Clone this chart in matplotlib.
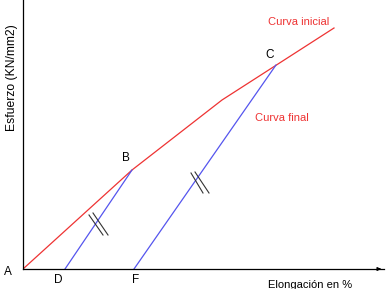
import matplotlib.pyplot as plt

plt.rcParams['font.family'] = ['Liberation Sans', 'DejaVu Sans']

# initial curve (A - B - knee - end), elongation vs stress
curva_inicial_x = [0.0, 10.9, 19.9, 31.1]
curva_inicial_y = [0.0, 9.9, 16.9, 24.1]

# unloading lines B->D and C->F
descarga_bd_x = [4.2, 10.9]
descarga_bd_y = [0.0, 9.9]
descarga_cf_x = [11.1, 25.3]
descarga_cf_y = [0.0, 20.4]

# parallel marks (pairs of short segments)
marcas_1 = [([6.6, 8.0], [5.4, 3.4]), ([7.0, 8.5], [5.6, 3.4])]
marcas_2 = [([16.8, 18.0], [9.6, 7.6]), ([17.2, 18.6], [9.7, 7.6])]

puntos = ["A", "B", "C", "D", "F"]
puntos_x = [-1.5, 10.3, 24.7, 3.5, 11.3]
puntos_y = [-0.3, 11.1, 21.4, -1.1, -1.1]

fig = plt.figure(figsize=(3.86, 2.89), dpi=100)
ax = fig.add_axes([23 / 386, 20 / 289, 361 / 386, 269 / 289])
ax.set_xlim(0, 36.1)
ax.set_ylim(0, 26.9)

rojo = "#ee3333"
azul = "#5555ee"
ax.plot(curva_inicial_x, curva_inicial_y, color=rojo, lw=0.9)
ax.plot(descarga_bd_x, descarga_bd_y, color=azul, lw=0.9)
ax.plot(descarga_cf_x, descarga_cf_y, color=azul, lw=0.9)
for mx, my in marcas_1 + marcas_2:
    ax.plot(mx, my, color="#333333", lw=0.8)

for nombre, px, py in zip(puntos, puntos_x, puntos_y):
    ax.text(px, py, nombre, fontsize=8.5, ha="center", va="center", clip_on=False)

ax.text(24.5, 24.7, "Curva inicial", color=rojo, fontsize=8, va="center")
ax.text(23.2, 15.1, "Curva final", color=rojo, fontsize=8, va="center")
ax.text(24.5, -1.6, "Elongación en %", fontsize=8, va="center", clip_on=False)
ax.text(-1.1, 19.1, "Esfuerzo (KN/mm2)", fontsize=8.7, rotation=90,
        ha="center", va="center", clip_on=False)

for s in ["top", "right"]:
    ax.spines[s].set_visible(False)
ax.spines["left"].set_linewidth(0.9)
ax.spines["bottom"].set_linewidth(0.9)
ax.set_xticks([])
ax.set_yticks([])
ax.patch.set_alpha(0)
ax.annotate("", xy=(36.1, 0), xytext=(35.3, 0),
            arrowprops=dict(arrowstyle="-|>", color="black", lw=0.9,
                            mutation_scale=5), annotation_clip=False)

fig.savefig("out.png", dpi=100)
